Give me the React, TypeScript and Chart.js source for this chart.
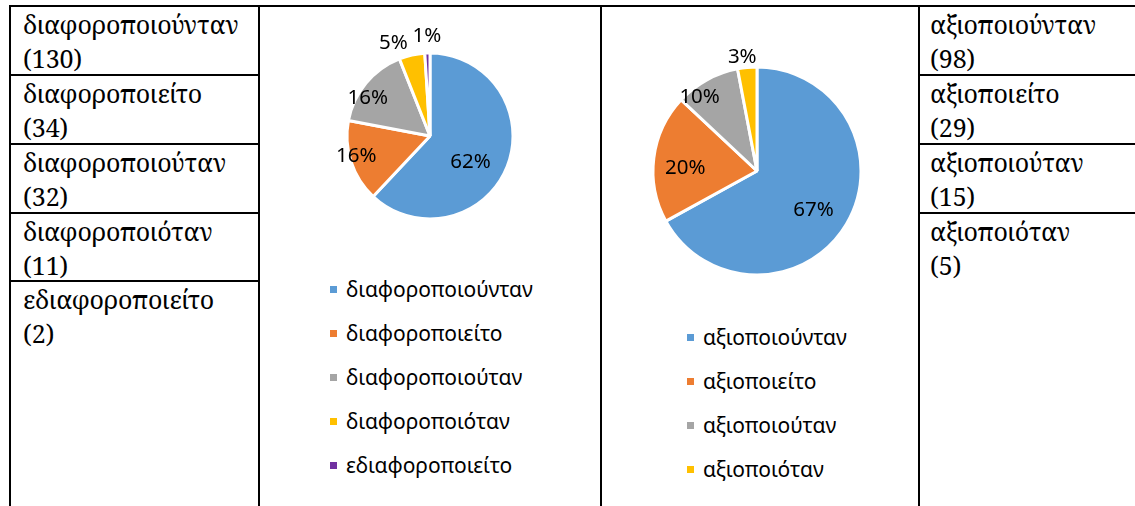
import React, { useEffect, useRef } from "react";
import { Chart, registerables } from "chart.js";

Chart.register(...registerables);

// ---- data ----
const leftLabels = ["διαφοροποιούνταν", "διαφοροποιείτο", "διαφοροποιούταν", "διαφοροποιόταν", "εδιαφοροποιείτο"];
const leftCounts = [130, 34, 32, 11, 2];
const leftPercents = [62, 16, 16, 5, 1];

const rightLabels = ["αξιοποιούνταν", "αξιοποιείτο", "αξιοποιούταν", "αξιοποιόταν"];
const rightCounts = [98, 29, 15, 5];
const rightPercents = [67, 20, 10, 3];

// ---- styles ----
const sliceColors = ["#5B9BD5", "#ED7D31", "#A5A5A5", "#FFC000", "#7030A0"];
const leftLabelRadius = [0.58, 0.92, 0.88, 1.2, 1.2];
const leftLabelAngle = [11, 3, -8, -9, 0];
const rightLabelRadius = [0.66, 0.69, 0.9, 1.1];
const rightLabelAngle = [4, -5, -9, -2];

const SERIF = '"Noto Serif", "Liberation Serif", serif';
const SANS = '"Noto Sans", "Open Sans", sans-serif';

const pctLabels = {
  id: "pctLabels",
  afterDatasetsDraw(chart: any, _args: any, opts: any) {
    const ctx = chart.ctx;
    const meta = chart.getDatasetMeta(0);
    const ds = chart.data.datasets[0];
    ctx.save();
    ctx.font = opts.font;
    ctx.fillStyle = "#000";
    ctx.textAlign = "center";
    ctx.textBaseline = "middle";
    meta.data.forEach((arc: any, i: number) => {
      const p = arc.getProps(["x", "y", "startAngle", "endAngle", "outerRadius"], true);
      const mid = (p.startAngle + p.endAngle) / 2 + ((opts.angles[i] || 0) * Math.PI) / 180;
      const r = p.outerRadius * opts.radii[i];
      ctx.fillText(ds.data[i] + "%", p.x + Math.cos(mid) * r, p.y + Math.sin(mid) * r);
    });
    ctx.restore();
  },
};

function Pie(props: {
  labels: string[];
  values: number[];
  radius: number;
  radii: number[];
  angles: number[];
  style: React.CSSProperties;
}) {
  const ref = useRef<HTMLCanvasElement>(null);
  useEffect(() => {
    const chart = new Chart(ref.current as HTMLCanvasElement, {
      type: "pie",
      data: {
        labels: props.labels,
        datasets: [
          {
            data: props.values,
            backgroundColor: sliceColors.slice(0, props.values.length),
            borderColor: "#ffffff",
            borderWidth: 3,
            radius: props.radius,
            hoverOffset: 0,
          } as any,
        ],
      },
      options: {
        animation: false,
        responsive: false,
        events: [],
        plugins: {
          legend: { display: false },
          tooltip: { enabled: false },
          pctLabels: { radii: props.radii, angles: props.angles, font: `20.5px ${SANS}` },
        } as any,
      },
      plugins: [pctLabels as any],
    });
    return () => chart.destroy();
  }, []);
  return <canvas ref={ref} width={260} height={260} style={{ position: "absolute", ...props.style }} />;
}

function Legend(props: { labels: string[]; left: number; top: number }) {
  return (
    <div style={{ position: "absolute", left: props.left, top: props.top, fontFamily: SANS, fontSize: 21, color: "#000" }}>
      {props.labels.map((l, i) => (
        <div key={l} style={{ height: 44, display: "flex", alignItems: "center", whiteSpace: "nowrap" }}>
          <span style={{ display: "inline-block", width: 7, height: 7, background: sliceColors[i], marginRight: 9 }} />
          <span>{l}</span>
        </div>
      ))}
    </div>
  );
}

const LINE = "#000";
function HLine(p: { x1: number; x2: number; y: number }) {
  return <div style={{ position: "absolute", left: p.x1, top: p.y - 1, width: p.x2 - p.x1, height: 2, background: LINE }} />;
}
function VLine(p: { x: number; y1: number; y2: number }) {
  return <div style={{ position: "absolute", left: p.x - 1, top: p.y1, width: 2, height: p.y2 - p.y1, background: LINE }} />;
}

const rowTops = [6, 75, 144, 213, 281];

const cellText: React.CSSProperties = {
  position: "absolute",
  fontFamily: SERIF,
  fontSize: 25,
  lineHeight: "34px",
  whiteSpace: "nowrap",
  color: "#000",
};

export default function App() {
  return (
    <div style={{ position: "fixed", left: 0, top: 0, width: 1135, height: 506, overflow: "hidden", background: "#fff" }}>
      {/* table lines */}
      <HLine x1={9} x2={1135} y={6} />
      <VLine x={10} y1={5} y2={506} />
      <VLine x={259} y1={5} y2={506} />
      <VLine x={601} y1={5} y2={506} />
      <VLine x={919} y1={5} y2={506} />
      {rowTops.slice(1).map((y) => (
        <HLine key={"l" + y} x1={9} x2={260} y={y} />
      ))}
      {rowTops.slice(1, 4).map((y) => (
        <HLine key={"r" + y} x1={918} x2={1135} y={y} />
      ))}
      {/* left column text */}
      {leftLabels.map((l, i) => (
        <div key={l} style={{ ...cellText, left: 23, top: rowTops[i] + 1 }}>
          {l}
          <br />({leftCounts[i]})
        </div>
      ))}
      {/* right column text */}
      {rightLabels.map((l, i) => (
        <div key={l} style={{ ...cellText, left: 930, top: rowTops[i] + 1 }}>
          {l}
          <br />({rightCounts[i]})
        </div>
      ))}
      <Pie labels={leftLabels} values={leftPercents} radius={83} radii={leftLabelRadius} angles={leftLabelAngle} style={{ left: 300, top: 6 }} />
      <Pie labels={rightLabels} values={rightPercents} radius={104} radii={rightLabelRadius} angles={rightLabelAngle} style={{ left: 627, top: 41 }} />
      <Legend labels={leftLabels} left={330} top={267} />
      <Legend labels={rightLabels} left={687} top={315} />
    </div>
  );
}
